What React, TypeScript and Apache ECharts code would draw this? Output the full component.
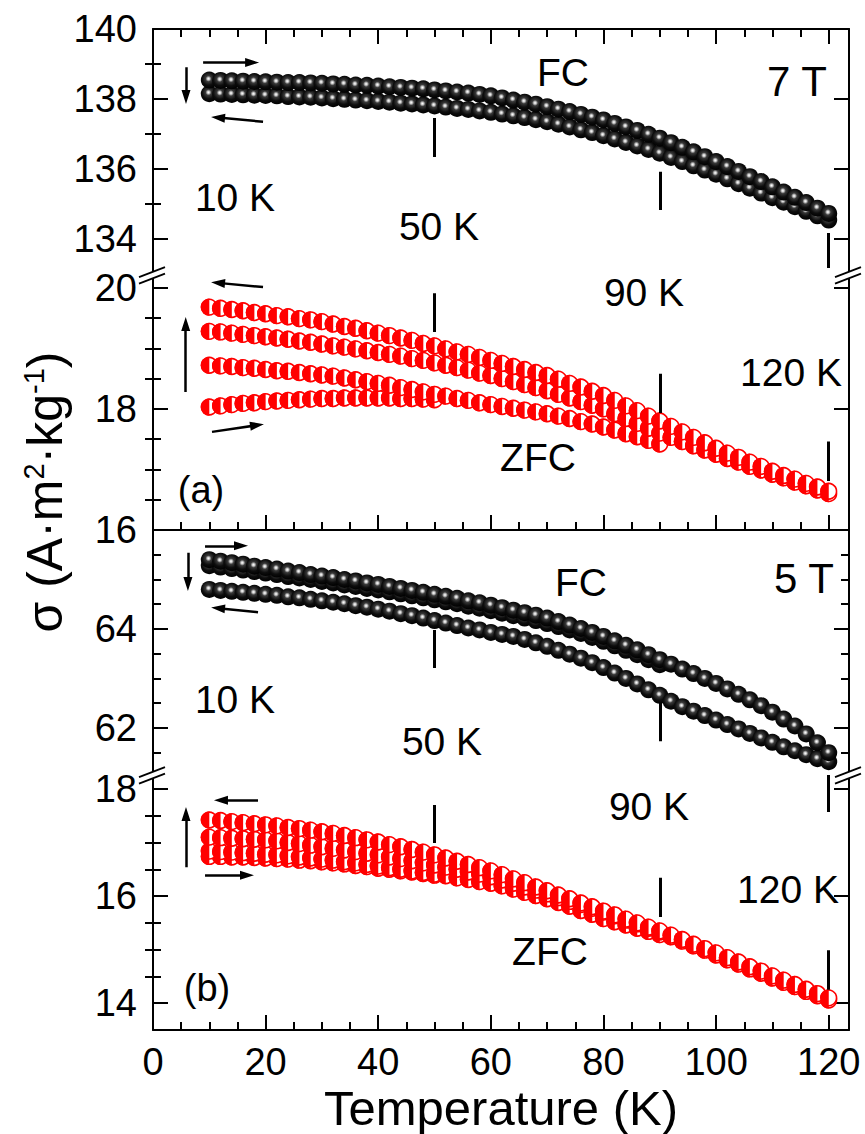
import React, { useEffect, useRef } from "react";
import * as echarts from "echarts";

const FONT = '"Liberation Sans", Arial, Helvetica, sans-serif';
const RED = "#ff0000";

// ---------- temperatures (K) ----------
const T_50 = [10, 12, 14, 16, 18, 20, 22, 24, 26, 28, 30, 32, 34, 36, 38, 40, 42, 44, 46, 48, 50];
const T_90 = [10, 12, 14, 16, 18, 20, 22, 24, 26, 28, 30, 32, 34, 36, 38, 40, 42, 44, 46, 48, 50,
  52, 54, 56, 58, 60, 62, 64, 66, 68, 70, 72, 74, 76, 78, 80, 82, 84, 86, 88, 90];
const T_120 = [10, 12, 14, 16, 18, 20, 22, 24, 26, 28, 30, 32, 34, 36, 38, 40, 42, 44, 46, 48, 50,
  52, 54, 56, 58, 60, 62, 64, 66, 68, 70, 72, 74, 76, 78, 80, 82, 84, 86, 88, 90,
  92, 94, 96, 98, 100, 102, 104, 106, 108, 110, 112, 114, 116, 118, 120];

// ---------- (a) 7 T ----------
const A_FC_HEAT = [138.54, 138.53, 138.52, 138.51, 138.50, 138.49, 138.48, 138.47, 138.47, 138.46,
  138.45, 138.43, 138.42, 138.40, 138.39, 138.37, 138.35, 138.33, 138.31, 138.29,
  138.26, 138.23, 138.20, 138.17, 138.13, 138.09, 138.03, 137.97, 137.91, 137.85,
  137.78, 137.71, 137.64, 137.56, 137.48, 137.40, 137.30, 137.20, 137.10, 136.99,
  136.88, 136.75, 136.62, 136.49, 136.35, 136.21, 136.07, 135.93, 135.78, 135.64,
  135.49, 135.34, 135.19, 135.04, 134.88, 134.73];
const A_FC_COOL = [138.15, 138.14, 138.13, 138.12, 138.11, 138.10, 138.09, 138.07, 138.06, 138.05,
  138.03, 138.01, 137.99, 137.97, 137.95, 137.93, 137.91, 137.88, 137.86, 137.83,
  137.80, 137.77, 137.73, 137.70, 137.66, 137.62, 137.57, 137.52, 137.47, 137.41,
  137.35, 137.28, 137.20, 137.12, 137.04, 136.95, 136.86, 136.76, 136.66, 136.56,
  136.45, 136.33, 136.21, 136.09, 135.97, 135.85, 135.72, 135.58, 135.45, 135.31,
  135.18, 135.05, 134.92, 134.79, 134.66, 134.54];
const A_ZFC_50 = [18.03, 18.05, 18.07, 18.09, 18.10, 18.12, 18.13, 18.14, 18.15, 18.16, 18.17,
  18.17, 18.18, 18.18, 18.18, 18.18, 18.18, 18.17, 18.17, 18.16, 18.15];
const A_ZFC_90 = [18.72, 18.71, 18.70, 18.68, 18.67, 18.65, 18.63, 18.62, 18.60, 18.58,
  18.56, 18.54, 18.51, 18.48, 18.45, 18.42, 18.39, 18.35, 18.32, 18.28,
  18.24, 18.21, 18.17, 18.14, 18.10, 18.07, 18.04, 18.01, 17.98, 17.95,
  17.92, 17.88, 17.84, 17.79, 17.75, 17.70, 17.65, 17.59, 17.54, 17.48, 17.42];
const A_ZFC_120A = [19.28, 19.27, 19.25, 19.23, 19.21, 19.19, 19.17, 19.15, 19.12, 19.10,
  19.07, 19.04, 19.02, 18.99, 18.96, 18.93, 18.90, 18.87, 18.83, 18.80,
  18.76, 18.72, 18.68, 18.64, 18.59, 18.55, 18.50, 18.45, 18.40, 18.35,
  18.30, 18.24, 18.18, 18.12, 18.06, 18.00, 17.92, 17.84, 17.76, 17.68,
  17.60, 17.53, 17.46, 17.39, 17.32, 17.25, 17.18, 17.12, 17.05, 16.99,
  16.92, 16.86, 16.79, 16.73, 16.66, 16.60];
const A_ZFC_120B = [19.68, 19.66, 19.64, 19.62, 19.59, 19.57, 19.54, 19.52, 19.49, 19.47,
  19.44, 19.40, 19.36, 19.33, 19.29, 19.25, 19.21, 19.17, 19.13, 19.08,
  19.04, 18.99, 18.94, 18.90, 18.85, 18.80, 18.75, 18.70, 18.65, 18.60,
  18.55, 18.49, 18.42, 18.36, 18.29, 18.22, 18.14, 18.05, 17.97, 17.88,
  17.80, 17.71, 17.62, 17.53, 17.44, 17.35, 17.27, 17.20, 17.12, 17.05,
  16.97, 16.90, 16.84, 16.77, 16.71, 16.64];

// ---------- (b) 5 T ----------
const B_FC_HEAT120 = [65.40, 65.37, 65.34, 65.31, 65.27, 65.24, 65.21, 65.17, 65.14, 65.10,
  65.07, 65.04, 65.00, 64.97, 64.93, 64.90, 64.86, 64.82, 64.78, 64.74,
  64.70, 64.66, 64.62, 64.57, 64.53, 64.48, 64.43, 64.38, 64.33, 64.28,
  64.22, 64.15, 64.08, 64.01, 63.93, 63.85, 63.76, 63.67, 63.58, 63.48,
  63.38, 63.29, 63.19, 63.10, 63.00, 62.90, 62.79, 62.68, 62.57, 62.45,
  62.32, 62.18, 62.04, 61.88, 61.70, 61.50];
const B_FC_HEAT90 = [65.28, 65.25, 65.22, 65.19, 65.16, 65.13, 65.10, 65.06, 65.03, 65.00,
  64.96, 64.93, 64.89, 64.86, 64.82, 64.79, 64.75, 64.71, 64.67, 64.63,
  64.59, 64.55, 64.51, 64.46, 64.42, 64.37, 64.32, 64.27, 64.22, 64.17,
  64.11, 64.05, 63.98, 63.91, 63.83, 63.75, 63.66, 63.57, 63.48, 63.38, 63.28];
const B_FC_COOL = [64.80, 64.78, 64.76, 64.74, 64.72, 64.70, 64.68, 64.65, 64.63, 64.60,
  64.57, 64.54, 64.51, 64.47, 64.44, 64.40, 64.36, 64.31, 64.27, 64.22,
  64.17, 64.12, 64.07, 64.02, 63.98, 63.93, 63.89, 63.85, 63.79, 63.72,
  63.65, 63.57, 63.49, 63.41, 63.32, 63.22, 63.11, 63.00, 62.89, 62.77,
  62.66, 62.54, 62.43, 62.34, 62.25, 62.16, 62.07, 61.98, 61.89, 61.80,
  61.71, 61.62, 61.54, 61.46, 61.38, 61.32];
const B_ZFC_50 = [16.74, 16.74, 16.73, 16.73, 16.72, 16.71, 16.70, 16.69, 16.67, 16.66, 16.64,
  16.62, 16.60, 16.57, 16.55, 16.52, 16.50, 16.47, 16.45, 16.42, 16.39];
const B_ZFC_90 = [16.84, 16.83, 16.82, 16.81, 16.80, 16.78, 16.77, 16.75, 16.73, 16.71,
  16.69, 16.67, 16.64, 16.62, 16.59, 16.56, 16.53, 16.50, 16.47, 16.44,
  16.41, 16.38, 16.34, 16.31, 16.27, 16.24, 16.19, 16.13, 16.07, 16.01,
  15.95, 15.88, 15.81, 15.73, 15.66, 15.58, 15.52, 15.46, 15.40, 15.34, 15.28];
const B_ZFC_120A = [17.10, 17.09, 17.08, 17.07, 17.06, 17.05, 17.03, 17.00, 16.98, 16.95,
  16.92, 16.89, 16.86, 16.83, 16.80, 16.77, 16.73, 16.70, 16.66, 16.62,
  16.58, 16.54, 16.50, 16.45, 16.41, 16.36, 16.30, 16.24, 16.17, 16.11,
  16.04, 15.97, 15.90, 15.84, 15.77, 15.70, 15.63, 15.55, 15.48, 15.40,
  15.33, 15.24, 15.16, 15.07, 14.99, 14.90, 14.81, 14.73, 14.64, 14.56,
  14.47, 14.39, 14.31, 14.22, 14.14, 14.06];
const B_ZFC_120B = [17.42, 17.41, 17.39, 17.37, 17.35, 17.33, 17.31, 17.28, 17.26, 17.23,
  17.20, 17.17, 17.13, 17.09, 17.05, 17.01, 16.96, 16.92, 16.87, 16.82,
  16.77, 16.71, 16.65, 16.59, 16.53, 16.47, 16.40, 16.32, 16.25, 16.17,
  16.10, 16.02, 15.95, 15.87, 15.80, 15.72, 15.65, 15.57, 15.50, 15.42,
  15.35, 15.27, 15.19, 15.10, 15.02, 14.94, 14.85, 14.77, 14.68, 14.60,
  14.51, 14.43, 14.35, 14.26, 14.18, 14.10];

// ---------- axes ----------
const X_MAX = 123.6;
const X_MAJOR = [0, 20, 40, 60, 80, 100, 120];
const X_MINOR = [5, 10, 15, 25, 30, 35, 45, 50, 55, 65, 70, 75, 85, 90, 95, 105, 110, 115];
const Y_RANGES = [[132.97, 140], [16, 20.21], [61.05, 66], [13.5, 18.26]];
const Y_MAJOR = [[134, 136, 138, 140], [16, 18, 20], [62, 64, 66], [14, 16, 18]];
const Y_MINOR = [[135, 137, 139], [16.5, 17, 17.5, 18.5, 19, 19.5],
  [61.5, 62.5, 63, 63.5, 64.5, 65, 65.5], [14.5, 15, 15.5, 16.5, 17, 17.5]];
const Y_LABELS = [[134, 136, 138, 140], [16, 18, 20], [62, 64], [14, 16, 18]];

// temperature marks (K) and their vertical spans [grid, T, yFrom, yTo]
const MARKS = [
  [0, 50, 137.46, 136.34], [0, 90, 135.92, 134.83], [0, 120, 134.17, 133.17],
  [1, 50, 19.91, 19.27], [1, 90, 18.58, 17.93], [1, 120, 17.46, 16.81],
  [2, 50, 63.98, 63.21], [2, 90, 62.51, 61.73],
  [3, 120, 18.26, 17.57], [3, 50, 17.70, 16.99], [3, 90, 16.34, 15.61], [3, 120, 14.99, 14.25],
];
// arrows [grid, T0, y0, T1, y1]  (head at T1,y1)
const ARROWS = [
  [0, 8.9, 139.04, 17.6, 139.04], [0, 5.86, 138.91, 5.86, 138.06], [0, 19.54, 137.35, 11.55, 137.47],
  [1, 19.54, 20.01, 11.55, 20.08], [1, 5.81, 18.28, 5.81, 19.40], [1, 10.48, 17.62, 18.47, 17.73],
  [2, 9.24, 65.68, 15.63, 65.68], [2, 6.2, 65.54, 6.2, 64.91], [2, 18.65, 64.34, 11.55, 64.42],
  [3, 18.65, 17.79, 12.07, 17.79], [3, 5.86, 16.54, 5.86, 17.53], [3, 9.24, 16.39, 16.69, 16.39],
];

const TEXTS: [string, number, number, number][] = [
  ["FC", 563, 72, 39], ["7 T", 797, 81, 42], ["10 K", 235, 197, 39], ["50 K", 439, 226, 39],
  ["90 K", 644, 292, 39], ["120 K", 791, 372, 39], ["ZFC", 538, 457, 39], ["(a)", 201, 490, 38],
  ["FC", 581, 582, 39], ["5 T", 804, 578, 42], ["10 K", 235, 699, 39], ["50 K", 442, 741, 39],
  ["90 K", 649, 806, 39], ["120 K", 788, 889, 39], ["ZFC", 550, 951, 39], ["(b)", 207, 988, 38],
];

const LEFT = 153;
const RIGHT = 16;
const PANELS = [
  { top: 29, height: 246 },
  { top: 275, height: 255 },
  { top: 530, height: 245 },
  { top: 775, height: 255 },
];
const X_MAIN = [0, 2, 4, 5];

function buildOption() {
  const ls = { color: "#000", width: 2 };
  const grid = PANELS.map((p) => ({
    left: LEFT, right: RIGHT, top: p.top, height: p.height,
    containLabel: false, outerBoundsMode: "none",
  }));

  const xb = (g: number, position: string) => ({
    type: "value", gridIndex: g, min: 0, max: X_MAX, position, splitLine: { show: false },
  });
  const major = (vals: number[]) => ({ show: true, inside: true, length: 15, customValues: vals, lineStyle: ls });
  const minor = (vals: number[]) => ({ show: true, inside: true, length: 8, customValues: vals, lineStyle: ls });

  const xAxis: any[] = [
    { ...xb(0, "top"), axisLine: { show: true, onZero: false, lineStyle: ls }, axisTick: major(X_MAJOR), axisLabel: { show: false } },
    { ...xb(0, "top"), axisLine: { show: false }, axisTick: minor(X_MINOR), axisLabel: { show: false } },
    { ...xb(1, "bottom"), axisLine: { show: true, onZero: false, lineStyle: ls }, axisTick: major(X_MAJOR), axisLabel: { show: false } },
    { ...xb(1, "bottom"), axisLine: { show: false }, axisTick: minor(X_MINOR), axisLabel: { show: false } },
    { ...xb(2, "bottom"), show: false },
    {
      ...xb(3, "bottom"), axisLine: { show: true, onZero: false, lineStyle: ls }, axisTick: major(X_MAJOR),
      axisLabel: { show: true, customValues: X_MAJOR, color: "#000", fontSize: 38, fontFamily: FONT, margin: 13 },
      name: "Temperature (K)", nameLocation: "middle", nameGap: 40,
      nameTextStyle: { color: "#000", fontSize: 49, fontFamily: FONT, lineHeight: 52 },
    },
    { ...xb(3, "bottom"), axisLine: { show: false }, axisTick: minor(X_MINOR), axisLabel: { show: false } },
  ];

  const yAxis: any[] = [];
  for (let g = 0; g < 4; g++) {
    const base = { type: "value", gridIndex: g, min: Y_RANGES[g][0], max: Y_RANGES[g][1], splitLine: { show: false } };
    yAxis.push(
      {
        ...base, position: "left", axisLine: { show: true, onZero: false, lineStyle: ls }, axisTick: major(Y_MAJOR[g]),
        axisLabel: { show: true, customValues: Y_LABELS[g], color: "#000", fontSize: 38, fontFamily: FONT, margin: 16 },
      },
      { ...base, position: "left", axisLine: { show: false }, axisTick: minor(Y_MINOR[g]), axisLabel: { show: false } },
      { ...base, position: "right", axisLine: { show: true, onZero: false, lineStyle: ls }, axisTick: major(Y_MAJOR[g]), axisLabel: { show: false } },
      { ...base, position: "right", axisLine: { show: false }, axisTick: minor(Y_MINOR[g]), axisLabel: { show: false } },
    );
  }

  const sphere = new echarts.graphic.RadialGradient(0.45, 0.42, 0.58, [
    { offset: 0, color: "#ffffff" },
    { offset: 0.12, color: "#cfcfcf" },
    { offset: 0.3, color: "#3a3a3a" },
    { offset: 0.65, color: "#0d0d0d" },
    { offset: 1, color: "#000000" },
  ]);

  const fc = (g: number, T: number[], V: number[]) => ({
    type: "scatter", xAxisIndex: X_MAIN[g], yAxisIndex: 4 * g, silent: true, z: 2,
    symbol: "circle", symbolSize: 17, itemStyle: { color: sphere, opacity: 1 },
    data: T.map((t, i) => [t, V[i]]),
  });

  const zfc = (g: number, T: number[], V: number[]) => ({
    type: "custom", xAxisIndex: X_MAIN[g], yAxisIndex: 4 * g, silent: true, z: 2,
    encode: { x: 0, y: 1 },
    data: T.map((t, i) => [t, V[i]]),
    renderItem: (_params: any, api: any) => {
      const p = api.coord([api.value(0), api.value(1)]);
      const r = 7.8;
      return {
        type: "group",
        children: [
          { type: "circle", shape: { cx: p[0], cy: p[1], r }, style: { fill: "#fff", stroke: RED, lineWidth: 1.6 } },
          {
            type: "sector",
            shape: { cx: p[0], cy: p[1], r0: 0, r: r + 0.8, startAngle: Math.PI / 2, endAngle: Math.PI * 1.5, clockwise: true },
            style: { fill: RED },
          },
        ],
      };
    },
  });

  const series: any[] = [
    fc(0, T_120, A_FC_COOL), fc(0, T_120, A_FC_HEAT),
    zfc(1, T_50, A_ZFC_50), zfc(1, T_90, A_ZFC_90), zfc(1, T_120, A_ZFC_120A), zfc(1, T_120, A_ZFC_120B),
    fc(2, T_120, B_FC_COOL), fc(2, T_90, B_FC_HEAT90), fc(2, T_120, B_FC_HEAT120),
    zfc(3, T_50, B_ZFC_50), zfc(3, T_90, B_ZFC_90), zfc(3, T_120, B_ZFC_120A), zfc(3, T_120, B_ZFC_120B),
  ];

  const head = "path://M7 0 L11.5 16 L2.5 16 Z M0 16 L0.01 16 L0 16.01 Z M14 0 L14.01 0 L14 0.01 Z";
  for (let g = 0; g < 4; g++) {
    series.push({
      type: "lines", coordinateSystem: "cartesian2d", xAxisIndex: X_MAIN[g], yAxisIndex: 4 * g,
      silent: true, z: 4, symbol: "none",
      lineStyle: { color: "#000", width: 3, opacity: 1 },
      data: MARKS.filter((m) => m[0] === g).map((m) => ({ coords: [[m[1], m[2]], [m[1], m[3]]] })),
    });
    series.push({
      type: "lines", coordinateSystem: "cartesian2d", xAxisIndex: X_MAIN[g], yAxisIndex: 4 * g,
      silent: true, z: 4, symbol: ["none", head], symbolSize: 14,
      lineStyle: { color: "#000", width: 2.5, opacity: 1 },
      itemStyle: { color: "#000" },
      data: ARROWS.filter((a) => a[0] === g).map((a) => ({ coords: [[a[1], a[2]], [a[3], a[4]]] })),
    });
  }

  // break marks on the broken axes
  const graphic: any[] = [];
  const breaks = [PANELS[1].top, PANELS[3].top];
  const xs = [LEFT, 865 - RIGHT];
  breaks.forEach((B) => {
    xs.forEach((X) => {
      const d = 12, s = 4.6, gap = 3.3;
      graphic.push({
        type: "polygon", silent: true, z: 100,
        shape: { points: [[X - d, B - gap + s], [X + d, B - gap - s], [X + d, B + gap - s], [X - d, B + gap + s]] },
        style: { fill: "#fff" },
      });
      [-gap, gap].forEach((o) => {
        graphic.push({
          type: "line", silent: true, z: 101,
          shape: { x1: X - d - 2, y1: B + o + s + 0.8, x2: X + d, y2: B + o - s },
          style: { stroke: "#000", lineWidth: 1.8 },
        });
      });
    });
  });

  TEXTS.forEach(([t, x, y, fs]) => {
    graphic.push({
      type: "text", x, y, silent: true, z: 50,
      style: {
        text: t, fontSize: fs, fontFamily: FONT, fill: "#000",
        align: "center", verticalAlign: "middle", textAlign: "center", textVerticalAlign: "middle",
      },
    });
  });

  graphic.push({
    type: "text", x: 45, y: 492, rotation: Math.PI / 2, silent: true, z: 50,
    style: {
      text: "{m|σ (A·m}{s|2}{m|·kg}{s|-1}{m|)}",
      align: "center", verticalAlign: "middle", textAlign: "center", textVerticalAlign: "middle",
      rich: {
        m: { fontSize: 50, fontFamily: FONT, fill: "#000" },
        s: { fontSize: 29, fontFamily: FONT, fill: "#000", padding: [0, 0, 23, 0] },
      },
    },
  });

  return { animation: false, backgroundColor: "#fff", grid, xAxis, yAxis, series, graphic };
}

export default function App() {
  const ref = useRef<HTMLDivElement>(null);
  useEffect(() => {
    const chart = echarts.init(ref.current!, null, { renderer: "svg" });
    chart.setOption(buildOption() as any);
    return () => chart.dispose();
  }, []);
  return (
    <div
      ref={ref}
      style={{ position: "absolute", left: 0, top: 0, width: 865, height: 1134, background: "#fff" }}
    />
  );
}
